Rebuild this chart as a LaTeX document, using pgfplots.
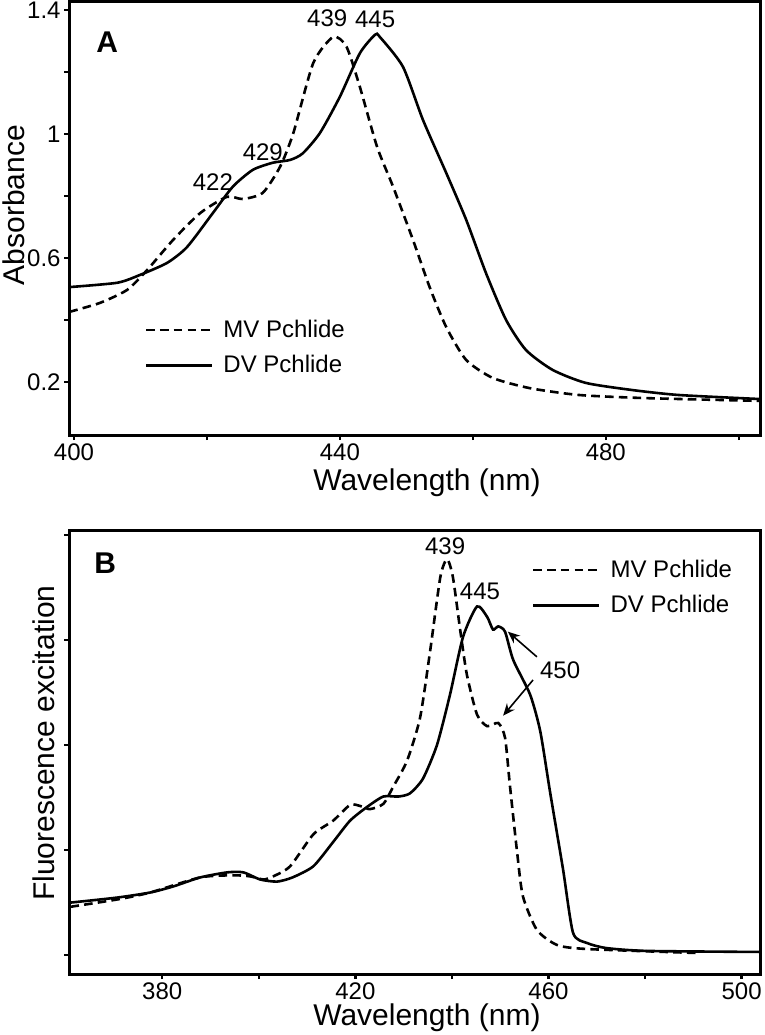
\documentclass[border=0pt]{standalone}
\usepackage{fontspec}
\setmainfont{Liberation Sans}
\usepackage{pgfplots}
\pgfplotsset{compat=1.18}
\usetikzlibrary{arrows.meta}
\begin{document}
\begin{tikzpicture}
\useasboundingbox (0,0) rectangle (382.5pt,-517.5pt);
\pgfplotsset{
  every axis/.append style={
    scale only axis,
    axis line style={line width=1.5pt},
    tick style={line width=1.2pt, black},
    major tick length=2.5pt,
    tick align=outside,
    xtick pos=bottom, ytick pos=left,
    tick label style={font=\fontsize{12}{14}\selectfont},
    xticklabel style={yshift=1.5pt},
    yticklabel style={xshift=1.8pt},
    label style={font=\fontsize{15}{18}\selectfont},
    /pgf/number format/assume math mode=true,
    legend style={draw=none, fill=none, font=\fontsize{12}{14}\selectfont,
      row sep=3.5pt, column sep=3pt, inner sep=0pt},
    legend cell align=left,
    legend image code/.code={\draw[#1] (0pt,0pt) -- (33pt,0pt);},
  },
  mv/.style={black, line width=1.3pt, dash pattern=on 4.3pt off 2.6pt, smooth, tension=0.4},
  dv/.style={black, line width=1.3pt, smooth, tension=0.4},
}
% ---------------- Panel A ----------------
\begin{axis}[
  at={(34.5pt,-0.75pt)}, anchor=north west,
  width=345.5pt, height=216.75pt,
  xmin=399.25, xmax=503.2, ymin=0.029, ymax=1.427,
  xtick={400,420,440,460,480,500}, xticklabels={400,,440,,480,},
  ytick={0.2,0.4,0.6,0.8,1.0,1.2,1.4}, yticklabels={0.2,,0.6,,1,,1.4},
  xlabel={Wavelength (nm)}, ylabel={Absorbance},
  xlabel style={at={(rel axis cs:0.518,-0.127)}, anchor=base},
  ylabel style={at={(rel axis cs:-0.080,0.53)}, anchor=center, rotate=0, inner sep=0pt},
  legend style={at={(axis cs:410.6,0.311)}, anchor=west},
]
\addplot[mv] coordinates {
(399.3,0.426) (403.9,0.455) (408,0.497) (411,0.561) (414.9,0.658) (419,0.745)
(423,0.797) (425.4,0.79) (428.4,0.81) (431,0.894) (433,1.003) (436,1.229)
(439,1.313) (441,1.281) (443,1.152) (445.6,0.958) (448,0.83) (451,0.658)
(453.5,0.506) (456,0.377) (459,0.271) (463,0.213) (468.6,0.18) (476,0.158)
(486,0.148) (503.2,0.139)};
\addlegendentry{MV Pchlide}
\addplot[dv] coordinates {
(399.3,0.506) (406.5,0.52) (409.9,0.545) (414,0.584) (417,0.635) (420.9,0.745)
(423.9,0.83) (426.9,0.884) (429.9,0.907) (432.5,0.916) (434.4,0.937) (437,1.003)
(440,1.12) (443,1.26) (445.3,1.32) (446,1.313) (449.5,1.216) (452.5,1.045)
(456,0.874) (459,0.723) (462,0.55) (465,0.40) (468,0.303) (472,0.239)
(477,0.197) (484,0.174) (491,0.158) (503.2,0.145)};
\addlegendentry{DV Pchlide}
\node[font=\fontsize{15}{17}\selectfont\bfseries] at (axis cs:405,1.297) {A};
\node[font=\fontsize{12}{14}\selectfont] at (axis cs:438.1,1.374) {439};
\node[font=\fontsize{12}{14}\selectfont] at (axis cs:445.3,1.368) {445};
\node[font=\fontsize{12}{14}\selectfont] at (axis cs:428.4,0.942) {429};
\node[font=\fontsize{12}{14}\selectfont] at (axis cs:420.9,0.845) {422};
\end{axis}
% ---------------- Panel B ----------------
\begin{axis}[
  at={(34.5pt,-265pt)}, anchor=north west,
  width=345.5pt, height=222pt,
  xmin=360.7, xmax=503.8, ymin=-0.18, ymax=4.048,
  xtick={380,400,420,440,460,480,500}, xticklabels={380,,420,,460,,500},
  ytick={0,1,2,3,4}, yticklabels={},
  xlabel={Wavelength (nm)}, ylabel={Fluorescence excitation},
  xlabel style={at={(rel axis cs:0.518,-0.117)}, anchor=base},
  ylabel style={at={(rel axis cs:-0.036,0.52)}, anchor=center, rotate=0},
  legend style={at={(axis cs:456.5,3.50)}, anchor=west},
]
\addplot[mv] coordinates {
(361,0.46) (370.7,0.53) (377.5,0.596) (387.9,0.74) (394.7,0.76) (398.2,0.75)
(401,0.72) (403,0.75) (406.5,0.846) (411.3,1.15) (415.4,1.28) (418.9,1.43)
(421,1.42) (423,1.39) (425.8,1.44) (427.8,1.6) (430.7,1.85) (433.4,2.26)
(435.5,2.9) (437.6,3.6) (439,3.77) (440.2,3.6) (441.7,3.1) (443.1,2.67)
(445.2,2.29) (447.3,2.18) (449.6,2.21) (451,2.07) (452,1.62) (453.5,0.98)
(454.7,0.56) (457.6,0.24) (461.8,0.096) (468,0.058) (490.8,0.02)};
\addlegendentry{MV Pchlide}
\addplot[dv] coordinates {
(361,0.5) (370.7,0.548) (377.5,0.596) (382.3,0.654) (387.9,0.74) (393.5,0.788)
(396.8,0.788) (400.3,0.72) (403.8,0.70) (407,0.74) (411.3,0.846) (415.4,1.077)
(418.9,1.28) (422.4,1.41) (425.8,1.51) (428.9,1.51) (431.3,1.54) (434,1.68)
(436.9,2.0) (439.6,2.48) (442.3,3.03) (445.2,3.32) (447.3,3.22) (448.5,3.10)
(449.6,3.13) (451,3.08) (452.7,2.81) (456.2,2.48) (458.3,2.13) (460.3,1.56)
(463,0.82) (465.1,0.21) (468,0.115) (472,0.067) (480.4,0.04) (503.8,0.03)};
\addlegendentry{DV Pchlide}
\node[font=\fontsize{15}{17}\selectfont\bfseries] at (axis cs:368.2,3.73) {B};
\node[font=\fontsize{12}{14}\selectfont] at (axis cs:438.6,3.89) {439};
\node[font=\fontsize{12}{14}\selectfont] at (axis cs:445.8,3.46) {445};
\node[font=\fontsize{12}{14}\selectfont] at (axis cs:462.4,2.71) {450};
\draw[line width=0.8pt, -{Stealth[length=6pt,width=5pt]}] (axis cs:457.6,2.84) -- (axis cs:451.6,3.08);
\draw[line width=0.8pt, -{Stealth[length=6pt,width=5pt]}] (axis cs:456.8,2.62) -- (axis cs:450.6,2.28);
\end{axis}
\end{tikzpicture}
\end{document}
